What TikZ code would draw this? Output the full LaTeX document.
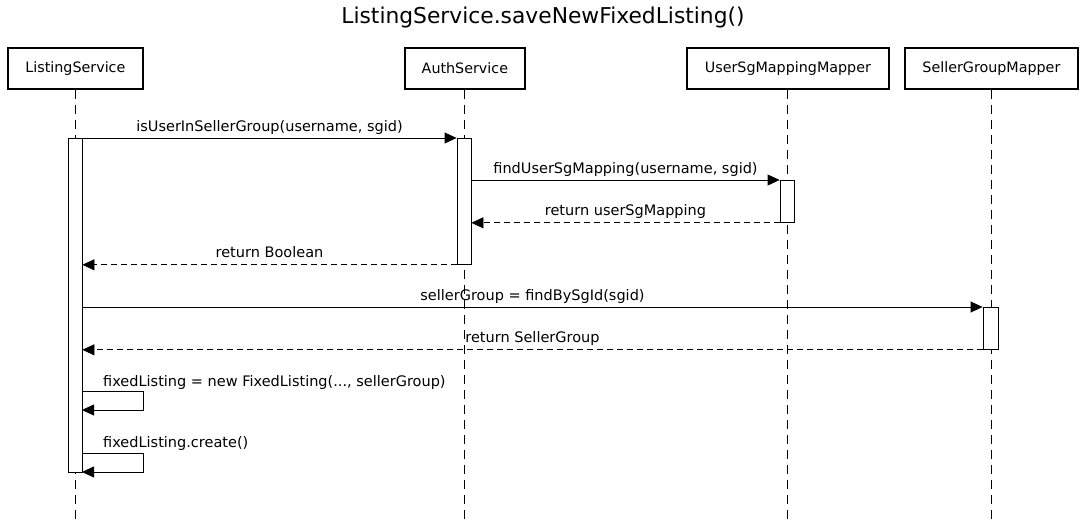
\documentclass[tikz,border=0pt]{standalone}
\usepackage{fontspec}
\setmainfont{DejaVu Sans}
\usetikzlibrary{arrows.meta}
\begin{document}
\begin{tikzpicture}[x=1pt,y=-1pt,
  actor/.style={draw, line width=1.8pt, minimum height=41pt, inner sep=0pt, anchor=north west, font=\fontsize{14.3}{16}\selectfont},
  lifeline/.style={line width=0.9pt, dash pattern=on 9pt off 6pt},
  actbar/.style={draw, fill=white, line width=0.8pt, minimum width=14pt, inner sep=0pt, anchor=north},
  msg/.style={line width=0.8pt, -{Triangle[length=12pt,width=11pt]}},
  ret/.style={msg, dash pattern=on 6pt off 4pt},
  lbl/.style={font=\fontsize{14.5}{16}\selectfont, inner sep=0pt, anchor=base, yshift=7pt},
  slbl/.style={font=\fontsize{14.5}{16}\selectfont, inner sep=0pt, anchor=base west},
]
\useasboundingbox (0,0) rectangle (1085,525);
\node[font=\fontsize{21.8}{24}\selectfont, inner sep=0pt, anchor=base] (title) at (543,23) {ListingService.saveNewFixedListing()};

\node[actor, minimum width=135pt] (ls) at (7,47) {ListingService};
\node[actor, minimum width=120pt] (as) at (404,47) {AuthService};
\node[actor, minimum width=202pt] (um) at (686,47) {UserSgMappingMapper};
\node[actor, minimum width=173pt] (sg) at (904,47) {SellerGroupMapper};

\coordinate (lsend) at (75,525);
\coordinate (asend) at (464,525);
\coordinate (umend) at (787,525);
\coordinate (sgend) at (991,525);
\draw[lifeline] (ls.south -| lsend) -- (lsend);
\draw[lifeline] (as.south -| asend) -- (asend);
\draw[lifeline] (um.south -| umend) -- (umend);
\draw[lifeline] (sg.south -| sgend) -- (sgend);

\node[actbar, minimum height=334pt] (a1) at (75,138) {};
\node[actbar, minimum height=126pt] (a2) at (464,138) {};
\node[actbar, minimum height=42pt] (a3) at (787,180) {};
\node[actbar, minimum height=42pt, minimum width=15pt] (a4) at (990.5,307) {};

\draw[msg] (a1.north east) -- node[lbl] {isUserInSellerGroup(username, sgid)} (a2.north west);
\draw[msg] (a2.east |- a3.north) -- node[lbl] {findUserSgMapping(username, sgid)} (a3.north west);
\draw[ret] (a3.south west) -- node[lbl] {return userSgMapping} (a2.east |- a3.south);
\draw[ret] (a2.south west) -- node[lbl] {return Boolean} (a1.east |- a2.south);
\draw[msg] (a1.east |- a4.north) -- node[lbl] {sellerGroup = findBySgId(sgid)} (a4.north west);
\draw[ret] (a4.south west) -- node[lbl] {return SellerGroup} (a1.east |- a4.south);

\coordinate (s1a) at (82,391);
\coordinate (s1b) at (82,410);
\draw[msg] (s1a) -- ++(61,0) |- (s1b);
\node[slbl] (t7) at (103,386) {fixedListing = new FixedListing(..., sellerGroup)};
\coordinate (s2a) at (82,453);
\coordinate (s2b) at (82,472);
\draw[msg] (s2a) -- ++(61,0) |- (s2b);
\node[slbl] (t8) at (103,447) {fixedListing.create()};
\end{tikzpicture}
\end{document}
